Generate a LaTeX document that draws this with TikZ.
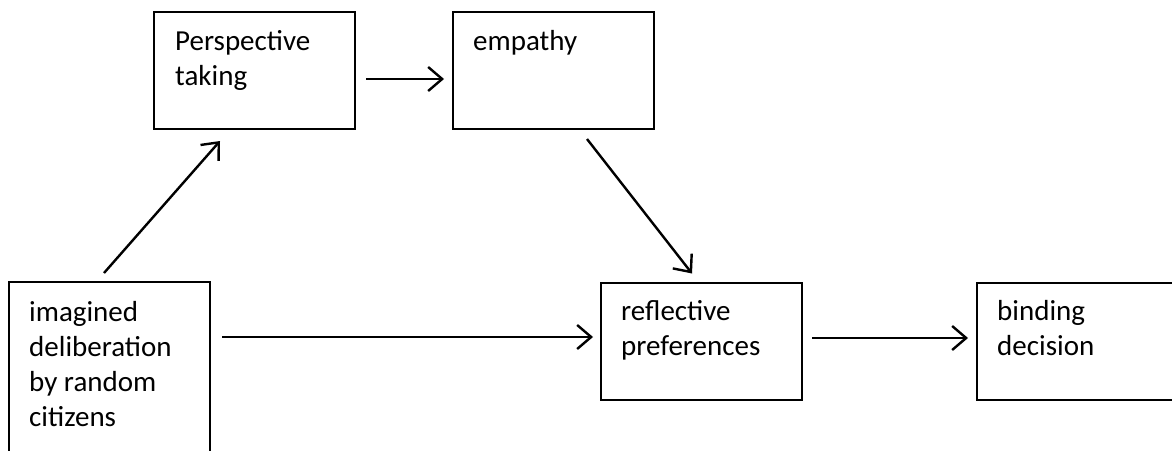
\documentclass[tikz,border=0pt]{standalone}
\usepackage{fontspec}
\setmainfont{Carlito}
\usetikzlibrary{arrows.meta}
\begin{document}
\begin{tikzpicture}[x=1pt,y=1pt,
  boxnode/.style={draw=black, line width=2pt, rectangle, minimum width=201pt, minimum height=117pt, inner sep=0pt},
  txtnode/.style={anchor=base west, inner sep=0pt, align=left, font=\fontsize{29}{35}\selectfont},
  arr/.style={line width=2.4pt, -{Straight Barb[length=14pt,width=24pt,line width=2.4pt]}}
]
\useasboundingbox (0,0) rectangle (1172,-450);
\fill[white] (0,0) rectangle (1172,-450);
% boxes
\node[boxnode] (P) at (254.5,-70.5) {};
\node[boxnode] (E) at (553.5,-70.5) {};
\node[boxnode, minimum height=188pt] (I) at (109.5,-376) {};
\node[boxnode] (R) at (701.5,-341) {};
\node[boxnode] (B) at (1077.5,-341) {};
% texts (base anchor = baseline of last line)
\node[txtnode] (Pt) at ([xshift=22pt,yshift=-74pt]P.north west) {Perspective\\taking};
\node[txtnode] (Et) at ([xshift=21pt,yshift=-39pt]E.north west) {empathy};
\node[txtnode] (It) at ([xshift=21pt,yshift=-145pt]I.north west) {imagined\\deliberation\\by random\\citizens};
\node[txtnode] (Rt) at ([xshift=21pt,yshift=-74pt]R.north west) {reflective\\preferences};
\node[txtnode] (Bt) at ([xshift=21pt,yshift=-74pt]B.north west) {binding\\decision};
% connectors
\draw[arr] ([xshift=10pt,yshift=-8.5pt]P.east) -- ([xshift=-8pt,yshift=-8.5pt]E.west);
\draw[arr] ([xshift=-5.5pt,yshift=8pt]I.north) -- ([xshift=-34.5pt,yshift=-11pt]P.south);
\draw[arr] ([xshift=33.5pt,yshift=-9pt]E.south) -- ([xshift=-9.5pt,yshift=8pt]R.north);
\draw[arr] ([xshift=11pt,yshift=39pt]I.east) -- ([xshift=-7pt,yshift=4pt]R.west);
\draw[arr] ([xshift=9pt,yshift=3pt]R.east) -- ([xshift=-8pt,yshift=3pt]B.west);
\end{tikzpicture}
\end{document}
